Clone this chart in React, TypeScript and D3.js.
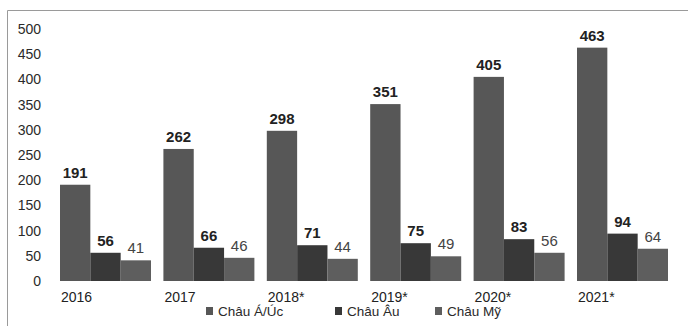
import * as d3 from 'd3';

const years = ['2016', '2017', '2018*', '2019*', '2020*', '2021*'];
const seriesNames = ['Châu Á/Úc', 'Châu Âu', 'Châu Mỹ'];
const asiaValues = [191, 262, 298, 351, 405, 463];
const europeValues = [56, 66, 71, 75, 83, 94];
const americaValues = [41, 46, 44, 49, 56, 64];
const yTicks = [0, 50, 100, 150, 200, 250, 300, 350, 400, 450, 500];

const colors = ['#575757', '#383838', '#5e5e5e'];
const labelWeights = ['bold', 'bold', 'normal'];

export default function App() {
  const width = 688;
  const height = 326;
  const margin = { top: 29, bottom: 45, left: 60, right: 20 };
  const font = '"Liberation Sans", Arial, sans-serif';

  const x = d3.scaleBand<string>().domain(years).range([margin.left, 668]).paddingInner(0.12).paddingOuter(0);
  const xInner = d3.scaleBand<string>().domain(seriesNames).range([0, x.bandwidth()]);
  const y = d3.scaleLinear().domain([0, 500]).range([height - margin.bottom, margin.top]);

  const allSeries = [asiaValues, europeValues, americaValues];
  const legendX = [206, 335, 435];

  return (
    <svg width={width} height={height} style={{ position: 'absolute', left: 0, top: 0, background: '#fff' }} fontFamily={font}>
      <rect x={0} y={0} width={width} height={height} fill="#fff" />
      <path d={`M7.5,${height} V10.5 H${width}`} fill="none" stroke="#9a9a9a" strokeWidth={1} />

      {yTicks.map((t) => (
        <text key={t} x={41} y={y(t)} dy="0.35em" textAnchor="end" fontSize={14} fill="#2a2a2a">
          {t}
        </text>
      ))}

      {years.map((year, i) => (
        <g key={year} transform={`translate(${x(year)},0)`}>
          {allSeries.map((values, s) => (
            <rect
              key={s}
              x={xInner(seriesNames[s])}
              y={y(values[i])}
              width={xInner.bandwidth()}
              height={y(0) - y(values[i])}
              fill={colors[s]}
            />
          ))}
          {allSeries.map((values, s) => (
            <text
              key={'l' + s}
              x={(xInner(seriesNames[s]) ?? 0) + xInner.bandwidth() / 2}
              y={y(values[i]) - 7}
              textAnchor="middle"
              fontSize={15}
              fontWeight={labelWeights[s]}
              fill={s === 2 ? '#444' : '#222'}
            >
              {values[i]}
            </text>
          ))}
          <text x={1} y={y(0) + 21} fontSize={14} fill="#222">
            {year}
          </text>
        </g>
      ))}

      {seriesNames.map((name, s) => (
        <g key={name} transform={`translate(${legendX[s]},311)`}>
          <rect x={0} y={-4} width={7} height={8} fill={colors[s]} />
          <text x={12} y={0} dy="0.35em" fontSize={13.5} fill="#2a2a2a">
            {name}
          </text>
        </g>
      ))}
    </svg>
  );
}
